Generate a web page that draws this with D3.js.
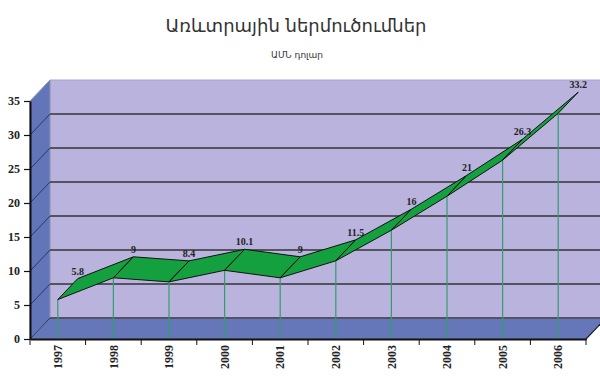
<!DOCTYPE html>
<html>
<head>
<meta charset="utf-8">
<script src="https://cdn.jsdelivr.net/npm/d3@7"></script>
<style>
  body { margin: 0; background: #fff; }
  svg { display: block; }
</style>
</head>
<body>
<svg id="chart"></svg>
<script>
const width = 600;
const height = 387;

const title = 'Առևտրային ներմուծումներ';
const subtitle = 'ԱՄՆ դոլար';
const years = ['1997', '1998', '1999', '2000', '2001', '2002', '2003', '2004', '2005', '2006'];
const values = [5.8, 9, 8.4, 10.1, 9, 11.5, 16, 21, 26.3, 33.2];
const yTicks = [0, 5, 10, 15, 20, 25, 30, 35];

// 3d depth offset of the walls
const dx = 20, dy = -21;

const svg = d3.select('#chart')
    .attr('width', width)
    .attr('height', height);

const x = d3.scaleBand().domain(years).range([30, 586]);
const y = d3.scaleLinear().domain([0, 35]).range([339, 101]);

const x0 = x.range()[0], x1 = x.range()[1];
const yb = y(0), yt = y(35);

const poly = pts => pts.map(p => p.join(',')).join(' ');

// back wall
svg.append('polygon')
    .attr('points', poly([[x0 + dx, yt + dy], [x1 + dx, yt + dy], [x1 + dx, yb + dy], [x0 + dx, yb + dy]]))
    .attr('fill', '#b9b3dd')
    .attr('stroke', '#a8a4c4')
    .attr('stroke-width', 1);

// left side wall
svg.append('polygon')
    .attr('points', poly([[x0, yb], [x0, yt], [x0 + dx, yt + dy], [x0 + dx, yb + dy]]))
    .attr('fill', '#6275b9')
    .attr('stroke', '#8f96b8')
    .attr('stroke-width', 1);

// floor
svg.append('polygon')
    .attr('points', poly([[x0, yb], [x1, yb], [x1 + dx, yb + dy], [x0 + dx, yb + dy]]))
    .attr('fill', '#6677b9');
svg.append('line')
    .attr('x1', x1).attr('y1', yb)
    .attr('x2', x1 + dx).attr('y2', yb + dy)
    .attr('stroke', '#222').attr('stroke-width', 1.2);

// gridlines on back wall and side wall
const grid = svg.append('g');
yTicks.filter(t => t < 35).forEach(t => {
    grid.append('line')
        .attr('x1', x0 + dx).attr('x2', x1 + dx)
        .attr('y1', y(t) + dy).attr('y2', y(t) + dy)
        .attr('stroke', '#55535f').attr('stroke-width', 2);
    grid.append('line')
        .attr('x1', x0).attr('x2', x0 + dx)
        .attr('y1', y(t)).attr('y2', y(t) + dy)
        .attr('stroke', '#2e3560').attr('stroke-width', 1);
});

const cx = d => x(d) + x.bandwidth() / 2;

// drop lines
svg.append('g').selectAll('line')
    .data(years)
    .join('line')
    .attr('x1', d => cx(d)).attr('x2', d => cx(d))
    .attr('y1', (d, i) => y(values[i]))
    .attr('y2', yb)
    .attr('stroke', '#2f9f6c')
    .attr('stroke-width', 1.2);

// ribbon
const segs = d3.range(years.length - 1).map(i => {
    const ax = cx(years[i]), ay = y(values[i]);
    const bx = cx(years[i + 1]), by = y(values[i + 1]);
    return [[ax, ay], [bx, by], [bx + dx, by + dy], [ax + dx, ay + dy]];
});
svg.append('g').selectAll('polygon')
    .data(segs)
    .join('polygon')
    .attr('points', d => poly(d))
    .attr('fill', '#14a03e')
    .attr('stroke', '#111')
    .attr('stroke-width', 1)
    .attr('stroke-linejoin', 'round');

// value labels
svg.append('g').selectAll('text')
    .data(years)
    .join('text')
    .attr('x', d => cx(d) + dx)
    .attr('y', (d, i) => y(values[i]) + dy - 4)
    .attr('text-anchor', 'middle')
    .attr('font-family', '"Liberation Serif", serif')
    .attr('font-weight', 'bold')
    .attr('font-size', 10)
    .attr('fill', '#222')
    .text((d, i) => values[i]);

// axes
const yAxis = svg.append('g')
    .attr('transform', `translate(${x0},0)`)
    .call(d3.axisLeft(y).tickValues(yTicks).tickSize(6).tickSizeOuter(0).tickPadding(4));
const xAxis = svg.append('g')
    .attr('transform', `translate(0,${yb})`)
    .call(d3.axisBottom(x).tickSize(0).tickPadding(6));

// ticks at band edges
const edges = years.map(d => x(d)).concat([x1]);
xAxis.selectAll('.edge')
    .data(edges)
    .join('line')
    .attr('class', 'edge')
    .attr('x1', d => d).attr('x2', d => d)
    .attr('y1', 0).attr('y2', 6)
    .attr('stroke', '#111');

[yAxis, xAxis].forEach(a => {
    a.select('.domain').attr('stroke', '#111').attr('stroke-width', 2);
    a.selectAll('.tick line').attr('stroke', '#111').attr('stroke-width', 1.2);
    a.selectAll('text')
        .attr('font-family', '"Liberation Serif", serif')
        .attr('font-weight', 'bold')
        .attr('font-size', 12)
        .attr('fill', '#222');
});

xAxis.selectAll('.tick text')
    .attr('transform', 'rotate(-90)')
    .attr('text-anchor', 'end')
    .attr('dy', '0.35em')
    .attr('x', -6)
    .attr('y', 0);

// titles
svg.append('text')
    .attr('x', 296).attr('y', 32)
    .attr('text-anchor', 'middle')
    .attr('font-family', '"DejaVu Sans", sans-serif')
    .attr('font-size', 18)
    .attr('fill', '#333')
    .text(title);
svg.append('text')
    .attr('x', 297).attr('y', 58)
    .attr('text-anchor', 'middle')
    .attr('font-family', '"DejaVu Sans", sans-serif')
    .attr('font-size', 9)
    .attr('fill', '#333')
    .text(subtitle);
</script>
</body>
</html>
